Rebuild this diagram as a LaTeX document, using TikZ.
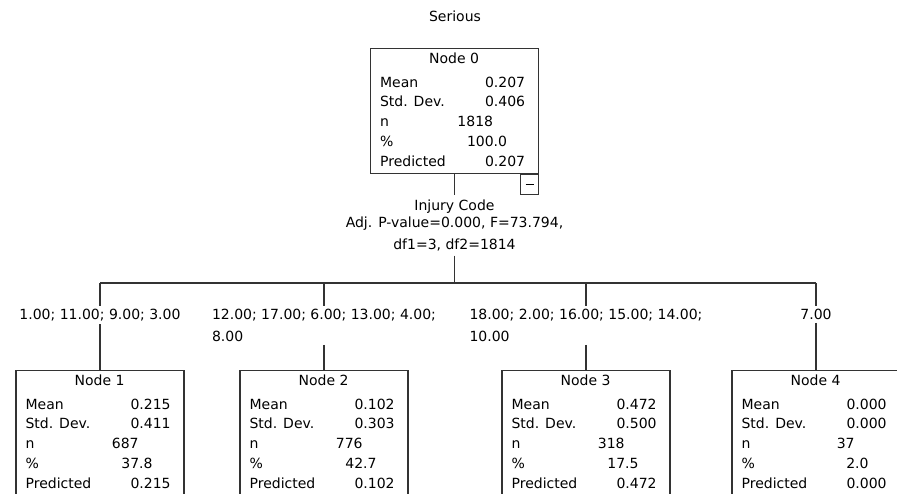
\documentclass[tikz,border=0pt]{standalone}
\usepackage{fontspec}
\setmainfont{DejaVu Sans}
\usetikzlibrary{positioning,calc}
\definecolor{treeline}{RGB}{51,51,51}

% one line of a tree node: label on the left, value ending at #3
\newcommand{\statrow}[3]{\makebox[0pt][l]{#1}\hspace*{#3}\llap{#2}}
% name, top centre, title, mean, std. dev., n, percent, predicted
\newcommand{\treenode}[8]{%
  \node[nodebox] (#1) at (#2) {};
  \node[nodetext] (#1text) at ([shift={(10,-4.4)}]#1.north west) {%
    \makebox[148pt][c]{#3}\\[4.3pt]
    \statrow{Mean}{#4}{145pt}\\
    \statrow{Std. Dev.}{#5}{145pt}\\
    \statrow{n}{#6}{113pt}\\
    \statrow{\%}{#7}{127pt}\\
    \statrow{Predicted}{#8}{145pt}};
}

\begin{document}
\begin{tikzpicture}[x=1pt, y=1pt,
  nodebox/.style={rectangle, draw=treeline, line width=1.2pt, anchor=north,
                  minimum width=168pt, minimum height=125pt, inner sep=0pt},
  nodetext/.style={anchor=north west, inner sep=0pt, align=left,
                   font=\fontsize{14}{19.7}\selectfont},
  splittext/.style={anchor=north, inner sep=4.5pt, align=center,
                    font=\fontsize{14}{17}\selectfont},
  branchtext/.style={anchor=north, inner xsep=2pt, inner ysep=3pt, align=left,
                     font=\fontsize{14}{22}\selectfont},
  togglebox/.style={rectangle, draw=treeline, line width=1.2pt, anchor=north east,
                    minimum width=18pt, minimum height=20pt, inner sep=0pt},
  conn/.style={draw=treeline, line width=1.2pt}
]
\fill[white] (0,0) rectangle (897,-494);
\useasboundingbox (0,0) rectangle (897,-494);
\clip (0,0) rectangle (897,-494);

% Title
\node[font=\fontsize{14}{17}\selectfont] (title) at (455,-16) {Serious};

% Root node
\treenode{node0}{454.5,-48}{Node 0}{0.207}{0.406}{1818}{100.0}{0.207}
\node[togglebox] (toggle0) at (node0.south east) {\rule{8pt}{1.2pt}};

% Split text
\node[splittext] (split) at (454.5,-195)
  {Injury Code\\Adj. P-value=0.000, F=73.794,\\[5pt]df1=3, df2=1814};
\coordinate (bar) at (454.5,-283);

% Child nodes
\treenode{node1}{100,-370}{Node 1}{0.215}{0.411}{687}{37.8}{0.215}
\treenode{node2}{324,-370}{Node 2}{0.102}{0.303}{776}{42.7}{0.102}
\treenode{node3}{586,-370}{Node 3}{0.472}{0.500}{318}{17.5}{0.472}
\treenode{node4}{816,-370}{Node 4}{0.000}{0.000}{37}{2.0}{0.000}

% Branch labels
\node[branchtext] (b1) at (100,-306) {1.00; 11.00; 9.00; 3.00};
\node[branchtext] (b2) at (324,-306) {12.00; 17.00; 6.00; 13.00; 4.00;\\8.00};
\node[branchtext] (b3) at (586,-306) {18.00; 2.00; 16.00; 15.00; 14.00;\\10.00};
\node[branchtext] (b4) at (816,-306) {7.00};

% Connectors
\draw[conn] (node0.south) -- (split.north);
\draw[conn] (split.south) -- (bar);
\draw[conn] (node1.north |- bar) -- (node4.north |- bar);
\draw[conn] (node1.north |- bar) -- (node1.north |- b1.north) (node1.north |- b1.south) -- (node1.north);
\draw[conn] (node2.north |- bar) -- (node2.north |- b2.north) (node2.north |- b2.south) -- (node2.north);
\draw[conn] (node3.north |- bar) -- (node3.north |- b3.north) (node3.north |- b3.south) -- (node3.north);
\draw[conn] (node4.north |- bar) -- (node4.north |- b4.north) (node4.north |- b4.south) -- (node4.north);
\end{tikzpicture}
\end{document}
